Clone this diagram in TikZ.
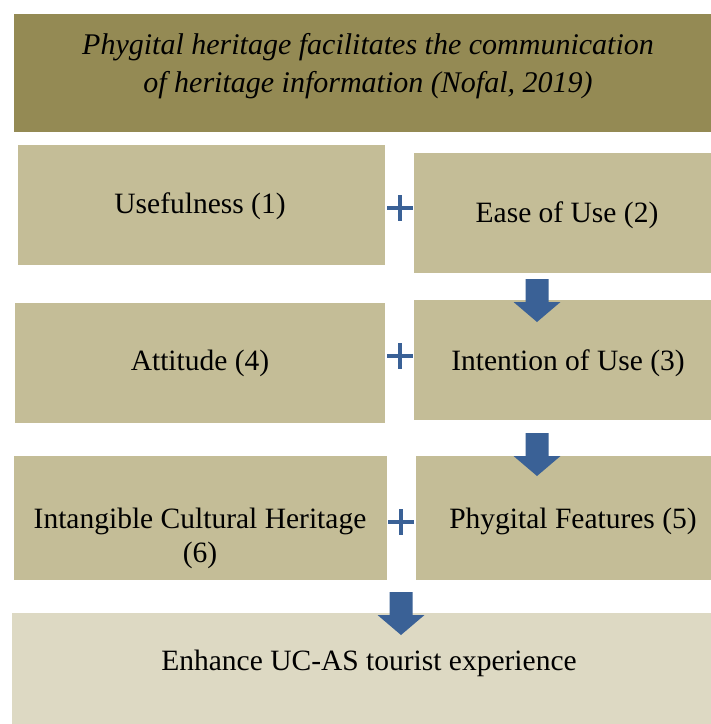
\documentclass[tikz,border=0pt]{standalone}
\usepackage{fontspec}
\setmainfont{Liberation Serif}
\definecolor{olivehead}{HTML}{948A54}
\definecolor{tanbox}{HTML}{C4BD97}
\definecolor{palebox}{HTML}{DDD9C3}
\definecolor{linkblue}{HTML}{3A6196}
\begin{document}
\begin{tikzpicture}[x=1pt,y=-1pt,
  box/.style={draw=none, inner sep=0pt, anchor=north west, fill=tanbox},
  lbl/.style={font=\fontsize{29.5}{34}\selectfont, align=center, inner sep=0pt},
  downarrow/.pic={\fill[linkblue] (-11.5,0) -- (11.5,0) -- (11.5,23) -- (23.5,23)
                    -- (0,43) -- (-23.5,23) -- (-11.5,23) -- cycle;},
  plussign/.pic={\draw[linkblue, line width=4pt] (-13,0) -- (13,0) (0,-13) -- (0,13);}]
\useasboundingbox (0,0) rectangle (711,724);
\fill[white] (0,0) rectangle (711,724);

% heading band
\node[box, fill=olivehead, minimum width=697pt, minimum height=118pt] (head) at (14,14) {};
\node[lbl, font=\fontsize{30}{38}\selectfont\itshape] (headtext) at (368,66)
  {Phygital heritage facilitates the communication\\of heritage information (Nofal, 2019)};

% factor boxes
\node[box, minimum width=367pt, minimum height=120pt] (useful) at (18,145) {};
\node[box, minimum width=297pt, minimum height=120pt] (ease) at (414,153) {};
\node[box, minimum width=370pt, minimum height=120pt] (attitude) at (15,303) {};
\node[box, minimum width=297pt, minimum height=120pt] (intent) at (414,300) {};
\node[box, minimum width=373pt, minimum height=124pt] (ich) at (14,456) {};
\node[box, minimum width=295pt, minimum height=124pt] (features) at (416,456) {};
\node[box, fill=palebox, minimum width=699pt, minimum height=111pt] (outcome) at (12,613) {};

% labels
\node[lbl] (usefultext) at (200,206) {Usefulness (1)};
\node[lbl] (easetext) at (567,215) {Ease of Use (2)};
\node[lbl] (attitudetext) at (200,363) {Attitude (4)};
\node[lbl] (intenttext) at (568,363) {Intention of Use (3)};
\node[lbl] (ichtext) at (200,538) {Intangible Cultural Heritage\\(6)};
\node[lbl] (featurestext) at (573,521) {Phygital Features (5)};
\node[lbl] (outcometext) at (369,663) {Enhance UC-AS tourist experience};

% plus signs between paired boxes
\pic at (400,208) {plussign};
\pic at (400,356) {plussign};
\pic at (401,522) {plussign};

% block arrows down the chain
\pic at (537,279) {downarrow};
\pic at (537,433) {downarrow};
\pic at (401,592) {downarrow};
\end{tikzpicture}
\end{document}
